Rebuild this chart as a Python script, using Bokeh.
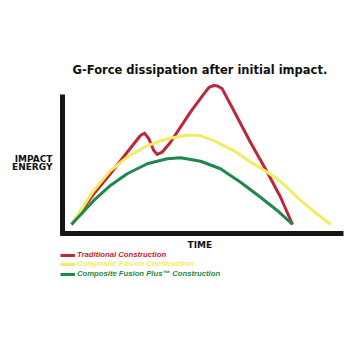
from bokeh.plotting import figure
from bokeh.models import Range1d, Label, Legend, LegendItem, LinearAxis, FixedTicker
from bokeh.embed import file_html
from bokeh.resources import INLINE

# time (arbitrary units) and impact energy (arbitrary units, red peak = 100)
trad_t = [0, 10.1, 17.6, 25.2, 31.2, 33.0, 35.0, 37.2, 38.8, 41.0, 44.8, 49.3, 53.8, 59.9, 62.2, 64.4, 66.1, 68.2, 73.4, 81.0, 88.6, 94.6, 100]
trad_e = [0, 22.1, 36.5, 52.0, 64.0, 65.7, 61.7, 53.2, 50.4, 52.0, 59.2, 70.0, 80.8, 94.0, 98.6, 100, 99.6, 97.6, 82.0, 59.0, 37.6, 19.6, 0]

cf_t = [0, 10.1, 17.6, 25.2, 34.3, 43.3, 52.9, 58.4, 64.4, 73.4, 81.0, 88.6, 95.0, 103.6, 110.0, 117.2]
cf_e = [0, 24.5, 38.8, 48.4, 56.8, 61.7, 64.4, 63.8, 60.4, 53.2, 45.0, 37.6, 30.5, 17.3, 9.0, 0]

cfp_t = [0, 10.1, 17.6, 25.2, 34.3, 43.3, 49.3, 58.4, 67.4, 76.5, 85.5, 93.1, 100]
cfp_e = [0, 17.3, 28.1, 36.5, 43.7, 47.3, 48.0, 45.5, 40.1, 30.4, 19.6, 10.1, 0]

names = ["Traditional Construction", "Composite Fusion Construction", "Composite Fusion Plus\u2122 Construction"]
colors = ["#c0263a", "#f3ec62", "#1d8a4c"]

FONT = "DejaVu Sans"
DARK = "#111111"

p = figure(width=350, height=350, output_backend="svg", toolbar_location=None,
           x_range=Range1d(-32.13, 126.24), y_range=Range1d(-90.65, 161.15),
           x_axis_location=None, y_axis_location=None,
           min_border=0)
p.grid.visible = False
p.outline_line_color = None
p.background_fill_color = "white"
p.border_fill_color = "white"

# axes drawn at fixed positions inside the frame
xax = LinearAxis(fixed_location=-6.26, bounds=(-4.98, 123.1), ticker=FixedTicker(ticks=[]))
yax = LinearAxis(fixed_location=-3.85, bounds=(-8.0, 93.5), ticker=FixedTicker(ticks=[]))
for ax in (xax, yax):
    ax.axis_line_width = 5
    ax.axis_line_color = "#151515"
    ax.major_tick_line_color = None
    ax.minor_tick_line_color = None
    ax.major_tick_in = 0
    ax.major_tick_out = 0
    ax.major_label_standoff = 0
p.add_layout(xax, "below")
p.add_layout(yax, "left")

r1 = p.line(trad_t, trad_e, line_color=colors[0], line_width=3, line_join="round")
r2 = p.line(cf_t, cf_e, line_color=colors[1], line_width=3, line_join="round")
r3 = p.line(cfp_t, cfp_e, line_color=colors[2], line_width=3, line_join="round")

p.add_layout(Label(x=58.1, y=111.5, text="G-Force dissipation after initial impact.",
                   text_align="center", text_baseline="middle", text_font=FONT,
                   text_font_style="bold", text_font_size="11.5px", text_color=DARK))
p.add_layout(Label(x=58.1, y=-14.4, text="TIME", text_align="center", text_baseline="middle",
                   text_font=FONT, text_font_style="bold", text_font_size="9px", text_color=DARK))
for txt, yv in (("IMPACT", 47.1), ("ENERGY", 41.4)):
    p.add_layout(Label(x=-8.6, y=yv, text=txt, text_align="right", text_baseline="alphabetic",
                       text_font=FONT, text_font_style="bold", text_font_size="9px",
                       text_color=DARK))

for i, (r, yoff) in enumerate(zip((r1, r2, r3), (91, 82, 72))):
    lg = Legend(items=[LegendItem(label=names[i], renderers=[r])], location=(60, yoff),
                orientation="vertical", glyph_width=15, glyph_height=8, label_height=8,
                label_standoff=2, padding=0, spacing=0, margin=0,
                border_line_color=None, background_fill_alpha=0,
                label_text_font="Liberation Sans", label_text_font_style="bold italic",
                label_text_font_size="7.7px", label_text_color=colors[i])
    p.add_layout(lg, "center")

open("out.html", "w").write(file_html(p, INLINE))
